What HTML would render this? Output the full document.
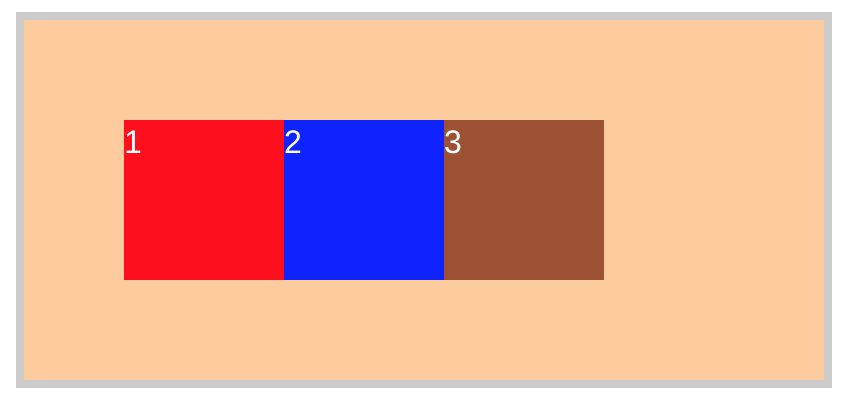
<!DOCTYPE html>
<html>
<head>
<meta charset="utf-8">
<style>
  html, body { margin: 0; padding: 0; background: #ffffff; }
  body { width: 844px; height: 406px; position: relative; overflow: hidden; font-family: "Liberation Sans", Arial, sans-serif; }
  #frame { position: absolute; left: 16px; top: 12px; width: 816px; height: 376px; background: #cccccc; }
  #panel { position: absolute; left: 24px; top: 20px; width: 800px; height: 360px; background: #fdcb9e; }
  .box { position: absolute; top: 120px; width: 160px; height: 160px; }
  .lbl { position: absolute; left: 0; top: 4px; color: #ffffff; font-size: 32px; line-height: 37px; }
</style>
</head>
<body>
<div id="frame"></div>
<div id="panel"></div>
<div id="boxes"></div>
<script>
const labels = ["1", "2", "3"];
const colors = ["#fe0f1d", "#0e23fe", "#9c5232"];
const container = document.getElementById('boxes');
labels.forEach((t, i) => {
  const b = document.createElement('div');
  b.className = 'box';
  b.style.left = (124 + i * 160) + 'px';
  b.style.background = colors[i];
  
  
  const s = document.createElement('span');
  s.className = 'lbl';
  s.textContent = t;
  
  
  b.appendChild(s);
  container.appendChild(b);
});
</script>
</body>
</html>
